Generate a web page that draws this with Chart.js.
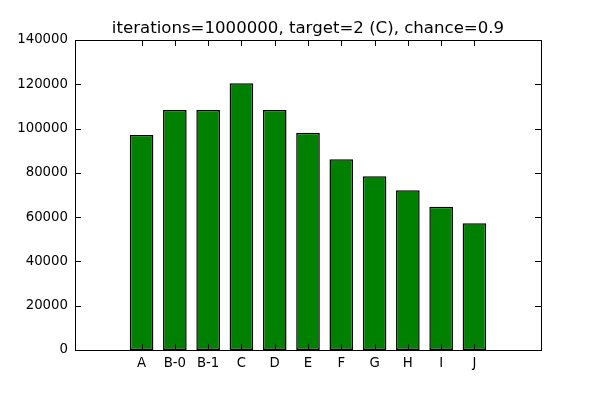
<!DOCTYPE html>
<html>
<head>
<meta charset="utf-8">
<script src="https://cdn.jsdelivr.net/npm/chart.js@4/dist/chart.umd.min.js"></script>
<style>
  html, body { margin: 0; padding: 0; background: #fff; }
</style>
</head>
<body>
<canvas id="myChart" width="600" height="400"></canvas>
<script>
// data
var categorias = ['A', 'B-0', 'B-1', 'C', 'D', 'E', 'F', 'G', 'H', 'I', 'J'];
var contagens = [97100, 108400, 108400, 120500, 108400, 98100, 86200, 78500, 72200, 64700, 57200];
var ticks_y = [0, 20000, 40000, 60000, 80000, 100000, 120000, 140000];
var titulo = 'iterations=1000000, target=2 (C), chance=0.9';

var pontos = contagens.map(function (v, i) { return { x: i, y: v }; });

// matplotlib style frame: box round the axes and ticks pointing inward on all sides
var moldura = {
    id: 'moldura',
    afterDraw: function (chart) {
        var ctx = chart.ctx;
        var a = chart.chartArea;
        var sx = chart.scales.x, sy = chart.scales.y;
        var t = 6;
        ctx.save();
        ctx.strokeStyle = '#000';
        ctx.lineWidth = 1;
        ctx.beginPath();
        sx.ticks.forEach(function (tk) {
            var px = Math.round(sx.getPixelForValue(tk.value)) + 0.5;
            ctx.moveTo(px, a.bottom); ctx.lineTo(px, a.bottom - t);
            ctx.moveTo(px, a.top); ctx.lineTo(px, a.top + t);
        });
        sy.ticks.forEach(function (tk) {
            var py = Math.round(sy.getPixelForValue(tk.value)) + 0.5;
            ctx.moveTo(a.left, py); ctx.lineTo(a.left + t, py);
            ctx.moveTo(a.right, py); ctx.lineTo(a.right - t, py);
        });
        ctx.stroke();
        ctx.strokeRect(Math.round(a.left) + 0.5, Math.round(a.top) + 0.5,
            Math.round(a.right - a.left), Math.round(a.bottom - a.top));
        // title centred over the axes, like matplotlib does
        ctx.fillStyle = '#000';
        ctx.font = '16.6px "DejaVu Sans"';
        ctx.textAlign = 'center';
        ctx.textBaseline = 'alphabetic';
        ctx.fillText(titulo, (a.left + a.right) / 2, a.top - 7);
        ctx.restore();
    }
};

var ctx = document.getElementById('myChart').getContext('2d');
var myChart = new Chart(ctx, {
    type: 'bar',
    data: {
        datasets: [{
            label: 'contagem',
            data: pontos,
            backgroundColor: '#008000',
            borderColor: '#000000',
            borderWidth: 1.5,
            borderSkipped: false,
            barPercentage: 0.71,
            categoryPercentage: 1
        }]
    },
    options: {
        responsive: false,
        animation: false,
        devicePixelRatio: 1,
        layout: { padding: { top: 40, right: 59, left: 0, bottom: 0 } },
        plugins: {
            legend: { display: false },
            title: { display: false },
            tooltip: { enabled: false }
        },
        scales: {
            x: {
                type: 'linear',
                min: -2,
                max: 12,
                offset: false,
                grid: { display: false, drawTicks: false, offset: false },
                border: { display: false },
                afterBuildTicks: function (axis) {
                    axis.ticks = categorias.map(function (c, i) { return { value: i }; });
                },
                afterFit: function (axis) { axis.height = 50; },
                ticks: {
                    autoSkip: false,
                    maxRotation: 0,
                    padding: 6,
                    color: '#000',
                    font: { family: 'DejaVu Sans', size: 13.3 },
                    callback: function (v) { return categorias[v]; }
                }
            },
            y: {
                min: 0,
                max: 140000,
                grid: { display: false, drawTicks: false },
                border: { display: false },
                afterBuildTicks: function (axis) {
                    axis.ticks = ticks_y.map(function (v) { return { value: v }; });
                },
                afterFit: function (axis) { axis.width = 75; },
                ticks: {
                    padding: 7,
                    color: '#000',
                    font: { family: 'DejaVu Sans', size: 13.3 },
                    callback: function (v) { return String(v); }
                }
            }
        }
    },
    plugins: [moldura]
});
</script>
</body>
</html>
